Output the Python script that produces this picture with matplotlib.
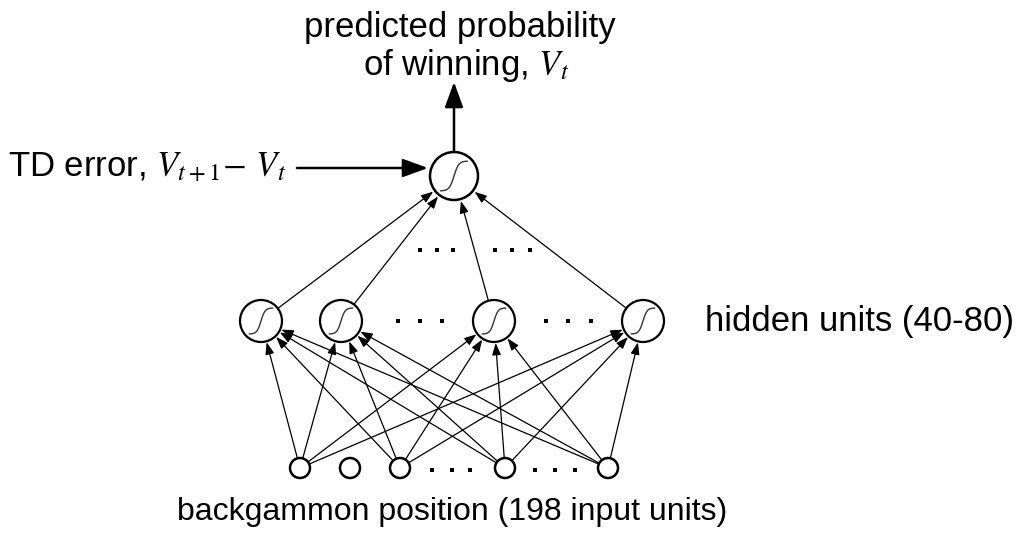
import matplotlib
matplotlib.use("Agg")
import matplotlib.pyplot as plt
from matplotlib.patches import Circle, FancyArrowPatch
import numpy as np

plt.rcParams['font.family'] = ['Liberation Sans', 'DejaVu Sans']
plt.rcParams['mathtext.fontset'] = 'stix'

# labels
top_label = ["predicted probability", "of winning, $V_t$"]
td_label = "TD error, $V_{t+1}\\!-\\,V_t$"
hidden_label = "hidden units (40-80)"
input_label = "backgammon position (198 input units)"

# layout (pixel coordinates, y down)
out_node = (454, 176)
out_r = 24
hidden_x = [261, 341, 494, 643]
hidden_y = 321
hidden_r = 21
input_x = [300, 350, 400, 505, 608]
input_y = 468
input_r = 10
connected_inputs = [0, 2, 3, 4]   # input at 350 has no links

fig = plt.figure(figsize=(10.17, 5.33), dpi=100)
ax = fig.add_axes([0, 0, 1, 1])
ax.set_xlim(0, 1017)
ax.set_ylim(533, 0)
ax.axis('off')


def node(x, y, r, sig=True, lw=1.6):
    ax.add_patch(Circle((x, y), r, fill=False, ec='black', lw=lw, zorder=3))
    if sig:
        t = np.linspace(-1, 1, 60)
        ax.plot(x + 0.55 * r * t, y - 0.62 * r * np.tanh(2.8 * t),
                color='#333333', lw=1.0, zorder=3)


def arrow(p, q, rp, rq, lw=0.9, style='-|>,head_length=0.6,head_width=0.22', ms=12):
    p = np.array(p, float)
    q = np.array(q, float)
    d = (q - p) / np.linalg.norm(q - p)
    a = p + d * rp
    b = q - d * rq
    ax.add_patch(FancyArrowPatch(a, b, arrowstyle=style, mutation_scale=ms,
                                 color='black', lw=lw, shrinkA=0, shrinkB=0,
                                 zorder=2))


def dots(xs, y):
    ax.scatter(xs, [y] * len(xs), s=7, color='black', marker='s', lw=0, zorder=3)


# nodes
node(*out_node, out_r, lw=1.8)
for hx in hidden_x:
    node(hx, hidden_y, hidden_r)
for ix in input_x:
    node(ix, input_y, input_r, sig=False, lw=1.8)

# hidden -> output
for hx in hidden_x:
    arrow((hx, hidden_y), out_node, hidden_r, out_r + 2)

# input -> hidden
for i in connected_inputs:
    for hx in hidden_x:
        arrow((input_x[i], input_y), (hx, hidden_y), input_r, hidden_r + 1)

# output arrow and TD error arrow
ax.add_patch(FancyArrowPatch((out_node[0], out_node[1] - out_r), (out_node[0], 82),
                             arrowstyle='-|>,head_length=1.1,head_width=0.4',
                             mutation_scale=14, color='black', lw=1.8,
                             shrinkA=0, shrinkB=0))
ax.add_patch(FancyArrowPatch((297, 168), (428, 168),
                             arrowstyle='-|>,head_length=1.1,head_width=0.4',
                             mutation_scale=14, color='black', lw=1.8,
                             shrinkA=0, shrinkB=0))

# ellipsis dots
dots([420, 437, 453], 250)
dots([495, 512, 530], 250)
dots([398, 420, 442], hidden_y)
dots([546, 568, 591], hidden_y)
dots([432, 452, 470], input_y + 2)
dots([535, 555, 575], input_y + 2)

# text
fs = 25
ax.text(460, 28, top_label[0], ha='center', va='center', fontsize=fs)
ax.text(466, 66, top_label[1], ha='center', va='center', fontsize=fs)
ax.text(8, 168, td_label, ha='left', va='center', fontsize=fs)
ax.text(705, 322, hidden_label, ha='left', va='center', fontsize=fs)
ax.text(452, 512, input_label, ha='center', va='center', fontsize=23)

fig.savefig("out.png", dpi=100)
